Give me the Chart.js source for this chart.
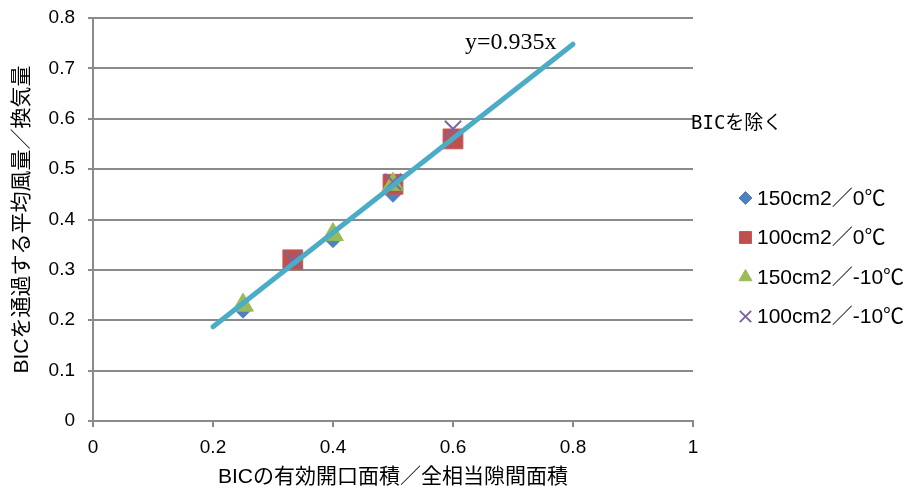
<!DOCTYPE html>
<html>
<head>
<meta charset="utf-8">
<script src="https://cdn.jsdelivr.net/npm/chart.js@4.4.1/dist/chart.umd.min.js"></script>
<style>
  html, body { margin: 0; padding: 0; background: #ffffff; }
  canvas { display: block; }
</style>
</head>
<body>
<canvas id="chart" width="909" height="490"></canvas>
<script>
// Ratio of BIC effective opening area to total equivalent leakage area (x)
// vs. ratio of mean airflow through the BIC to ventilation rate (y)
const seriesLabels = ['150cm2／0℃', '100cm2／0℃', '150cm2／-10℃', '100cm2／-10℃'];

const x150_0 = [0.25, 0.4, 0.5];
const y150_0 = [0.22, 0.36, 0.45];

const x100_0 = [0.333, 0.5, 0.6];
const y100_0 = [0.32, 0.47, 0.56];

const x150_m10 = [0.25, 0.4, 0.5];
const y150_m10 = [0.23, 0.37, 0.47];

const x100_m10 = [0.333, 0.5, 0.6];
const y100_m10 = [0.32, 0.475, 0.58];

// Linear trend through the origin
const trendSlope = 0.935;
const trendX = [0.2, 0.8];
const trendLabel = 'y=0.935x';

const xTickLabels = ['0', '0.2', '0.4', '0.6', '0.8', '1'];
const yTickLabels = ['0', '0.1', '0.2', '0.3', '0.4', '0.5', '0.6', '0.7', '0.8'];

const xTitle = 'BICの有効開口面積／全相当隙間面積';
const yTitle = 'BICを通過する平均風量／換気量';
const legendTitle = 'BICを除く';

const SANS = '"Liberation Sans", Arial, "Noto Sans CJK JP", sans-serif';
const GRID = '#8a8a8a';

function pts(xs, ys) {
  return xs.map((x, i) => ({ x: x, y: ys[i] }));
}

const series = [
  { label: seriesLabels[0], data: pts(x150_0, y150_0), pointStyle: 'rectRot', pointRadius: 8,
    backgroundColor: '#4F81BD', borderColor: '#4F81BD', pointBorderWidth: 1, order: 4,
    legendRadius: 6.5 },
  { label: seriesLabels[1], data: pts(x100_0, y100_0), pointStyle: 'rect', pointRadius: 14,
    backgroundColor: '#C0504D', borderColor: '#C65956', pointBorderWidth: 1, order: 3,
    legendRadius: 8.5 },
  { label: seriesLabels[2], data: pts(x150_m10, y150_m10), pointStyle: 'triangle', pointRadius: 12,
    backgroundColor: '#9BBB59', borderColor: '#9BBB59', pointBorderWidth: 1, order: 2,
    legendRadius: 7.5 },
  { label: seriesLabels[3], data: pts(x100_m10, y100_m10), pointStyle: 'crossRot', pointRadius: 11.5,
    backgroundColor: '#8064A2', borderColor: '#8064A2', pointBorderWidth: 2, order: 1,
    legendRadius: 8 }
];

const trend = {
  label: trendLabel,
  data: trendX.map(x => ({ x: x, y: trendSlope * x })),
  showLine: true,
  borderColor: '#4BACC6',
  borderWidth: 5,
  borderCapStyle: 'round',
  pointRadius: 0,
  fill: false,
  order: 0
};

const annotations = {
  id: 'annotations',
  afterDraw(chart) {
    const ctx = chart.ctx;
    const xs = chart.scales.x, ys = chart.scales.y;
    ctx.save();

    // trend equation
    ctx.fillStyle = '#000';
    ctx.font = '24px "Liberation Serif", "Times New Roman", serif';
    ctx.textAlign = 'left';
    ctx.textBaseline = 'alphabetic';
    ctx.fillText(trendLabel, xs.getPixelForValue(0.62), ys.getPixelForValue(0.738));

    // legend heading
    ctx.font = '19px "DejaVu Sans Mono", "Noto Sans CJK JP", monospace';
    ctx.textBaseline = 'middle';
    ctx.fillText(legendTitle, 691, 124);

    // legend entries
    const mx = 745.5, tx = 757, y0 = 198, step = 39.5;
    ctx.font = '21px ' + SANS;
    series.forEach((s, i) => {
      const y = y0 + i * step;
      ctx.fillStyle = s.backgroundColor;
      ctx.strokeStyle = s.borderColor;
      ctx.lineWidth = s.pointBorderWidth;
      Chart.helpers.drawPoint(ctx, {
        pointStyle: s.pointStyle, rotation: 0, radius: s.legendRadius, borderWidth: s.pointBorderWidth
      }, mx, y);
      ctx.fillStyle = '#000';
      ctx.fillText(s.label, tx, y + 1);
    });
    ctx.restore();
  }
};

new Chart(document.getElementById('chart'), {
  type: 'scatter',
  data: { datasets: [trend].concat(series) },
  options: {
    responsive: false,
    animation: false,
    layout: { padding: { top: 18, right: 216, bottom: 0, left: 0 } },
    plugins: {
      legend: { display: false },
      tooltip: { enabled: false }
    },
    scales: {
      x: {
        type: 'linear', min: 0, max: 1,
        afterFit(s) { s.height = 69; },
        ticks: {
          stepSize: 0.2, autoSkip: false, maxRotation: 0, padding: 9,
          color: '#000', font: { family: SANS, size: 19 },
          callback: (v, i) => xTickLabels[i]
        },
        grid: { drawOnChartArea: false, drawTicks: true, tickLength: 6, color: GRID, lineWidth: 2 },
        border: { display: true, color: GRID, width: 2 },
        title: {
          display: true, text: xTitle, color: '#000',
          font: { family: SANS, size: 21 }, padding: { top: 0, bottom: 0 }
        }
      },
      y: {
        type: 'linear', min: 0, max: 0.8,
        afterFit(s) { s.width = 93; s.paddingTop = 0; s.paddingBottom = 0; },
        ticks: {
          stepSize: 0.1, autoSkip: false, padding: 13,
          color: '#000', font: { family: SANS, size: 19 },
          callback: (v, i) => yTickLabels[i]
        },
        grid: { drawTicks: true, tickLength: 5, color: GRID, lineWidth: 2 },
        border: { display: true, color: GRID, width: 2 },
        title: {
          display: true, text: yTitle, color: '#000',
          font: { family: SANS, size: 21 }, padding: { top: 10, bottom: 0 }
        }
      }
    }
  },
  plugins: [annotations]
});
</script>
</body>
</html>
